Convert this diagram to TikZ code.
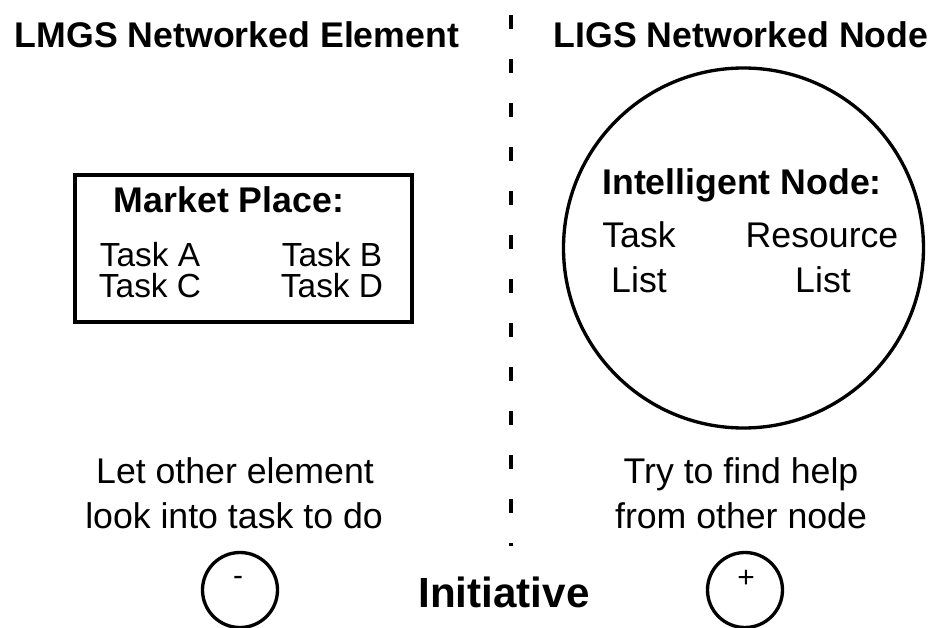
\documentclass[tikz,border=0pt]{standalone}
\usepackage{fontspec}
\setmainfont{Liberation Sans}
\usepackage{tikz}

\tikzset{
  txt/.style={font=\fontsize{20.3}{24}\selectfont, anchor=base, inner sep=0pt},
  boldtxt/.style={txt, font=\fontsize{20.3}{24}\selectfont\bfseries},
  tasktxt/.style={txt, font=\fontsize{19}{22}\selectfont},
  signtxt/.style={txt, anchor=center, font=\fontsize{17}{20}\selectfont},
  ring/.style={draw, circle, line width=1.9pt, inner sep=0pt},
}

\begin{document}
\begin{tikzpicture}[scale=1.0]
  \useasboundingbox (0,0) rectangle (18.78,-12.56);
  \node[boldtxt] (lmgs) at (4.74,-0.96) {LMGS Networked Element};
  \node[boldtxt] (ligs) at (14.82,-0.96) {LIGS Networked Node};
  \coordinate (divtop) at (10.22,-0.30);
  \coordinate (divbot) at (10.22,-10.92);
  \draw[line width=2pt, dash pattern=on 0.28cm off 0.60cm] (divtop) -- (divbot);

  \node[draw, line width=2pt, minimum width=6.74cm, minimum height=2.94cm] (market) at (4.87,-4.97) {};
  \node[boldtxt] (mtitle) at (4.58,-4.26) {Market Place:};
  \node[tasktxt] (taska) at (3.00,-5.34) {Task A};
  \node[tasktxt] (taskb) at (6.64,-5.34) {Task B};
  \node[tasktxt] (taskc) at (3.00,-5.96) {Task C};
  \node[tasktxt] (taskd) at (6.64,-5.96) {Task D};

  \node[ring, minimum size=7.2cm] (inode) at (14.87,-4.96) {};
  \node[boldtxt] (ititle) at (14.84,-3.90) {Intelligent Node:};
  \node[txt] (tlist1) at (12.78,-4.96) {Task};
  \node[txt] (tlist2) at (12.78,-5.86) {List};
  \node[txt] (rlist1) at (16.44,-4.96) {Resource};
  \node[txt] (rlist2) at (16.46,-5.86) {List};

  \node[txt] (lmgs1) at (4.70,-9.66) {Let other element};
  \node[txt] (lmgs2) at (4.68,-10.56) {look into task to do};
  \node[txt] (ligs1) at (14.82,-9.66) {Try to find help};
  \node[txt] (ligs2) at (14.82,-10.56) {from other node};

  \node[ring, minimum size=1.5cm] (minus) at (4.80,-11.80) {};
  \node[signtxt] (minussign) at (4.76,-11.62) {-};
  \node[ring, minimum size=1.5cm] (plus) at (14.90,-11.80) {};
  \node[signtxt] (plussign) at (14.92,-11.58) {+};
  \node[txt, font=\fontsize{24}{28}\selectfont\bfseries] (init) at (10.08,-12.14) {Initiative};
\end{tikzpicture}
\end{document}
